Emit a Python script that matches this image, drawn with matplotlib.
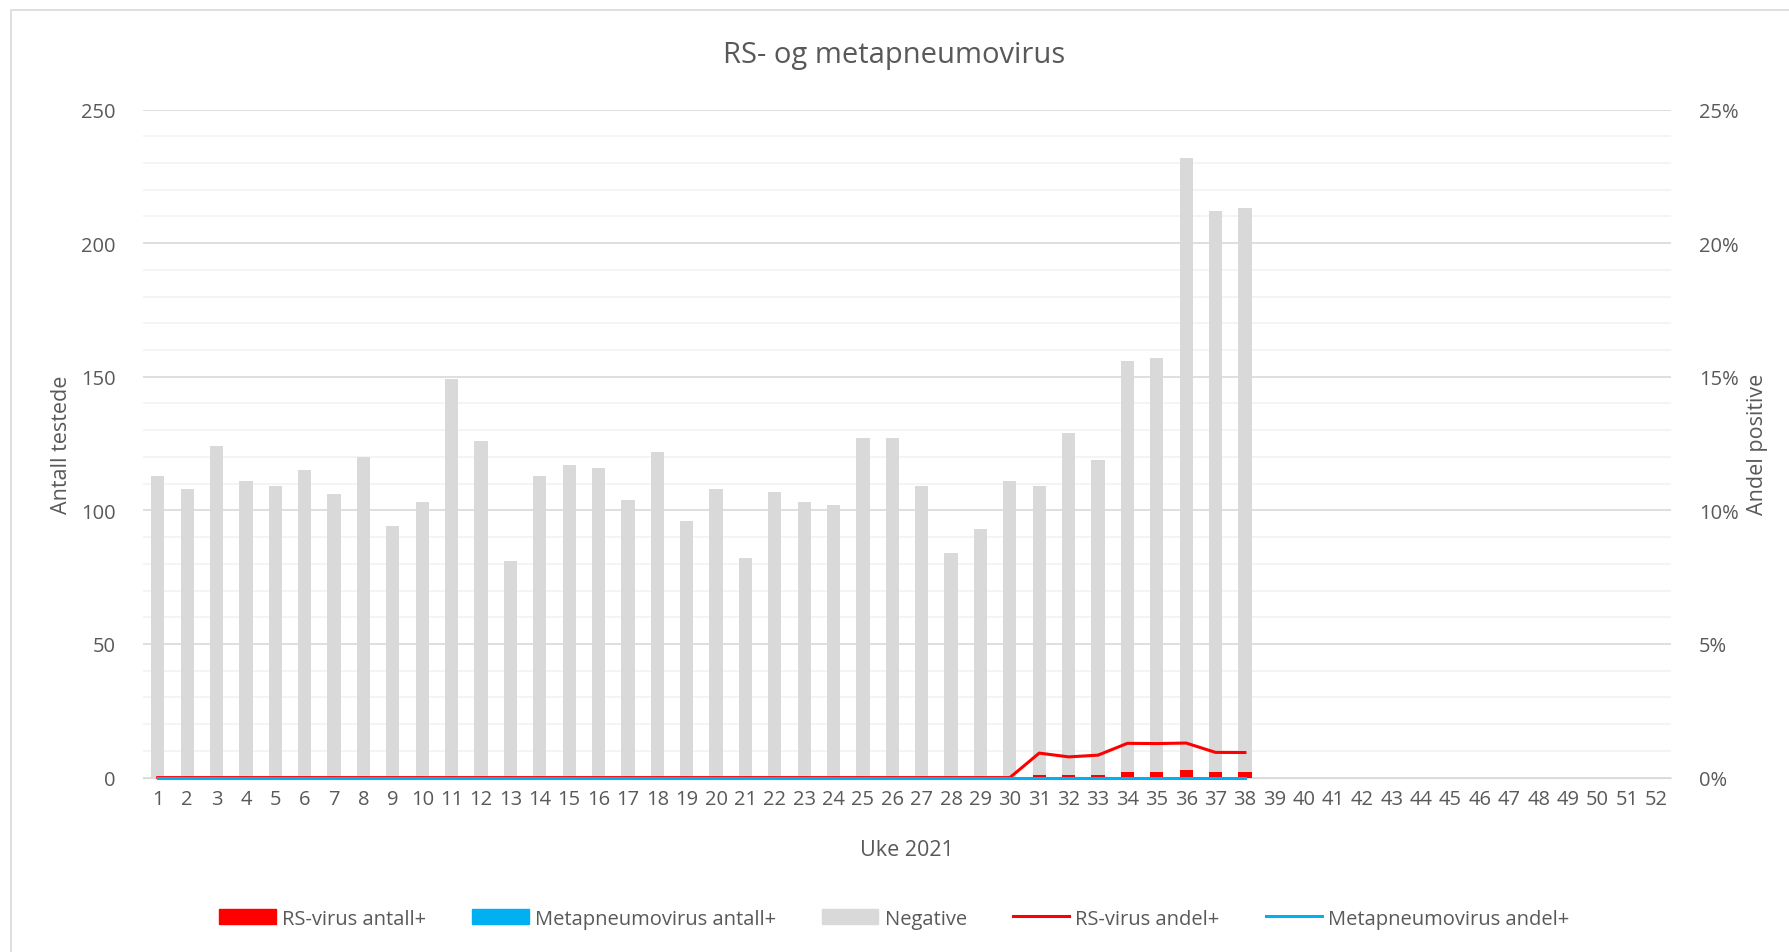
import matplotlib.pyplot as plt
from matplotlib.patches import Rectangle
from matplotlib.lines import Line2D
import numpy as np

plt.rcParams['font.family'] = ['Open Sans', 'DejaVu Sans']

weeks = list(range(1, 53))
total = [113, 108, 124, 111, 109, 115, 106, 120, 94, 103, 149, 126, 81, 113, 117, 116, 104, 122, 96, 108,
         82, 107, 103, 102, 127, 127, 109, 84, 93, 111, 109, 129, 119, 156, 157, 232, 212, 213]
rs_pos = [0] * 30 + [1, 1, 1, 2, 2, 3, 2, 2]
mpv_pos = [0] * 38

n = len(total)
negative = [t - r - m for t, r, m in zip(total, rs_pos, mpv_pos)]
rs_share = [r / t for r, t in zip(rs_pos, total)]
mpv_share = [m / t for m, t in zip(mpv_pos, total)]

grey = '#595959'
fig = plt.figure(figsize=(17.89, 9.53), dpi=100)
ax = fig.add_axes([0.080, 0.183, 0.854, 0.701])
ax2 = ax.twinx()

x = np.arange(1, n + 1)
w = 0.45
ax.bar(x, rs_pos, w, color='#FF0000', zorder=3)
ax.bar(x, mpv_pos, w, bottom=rs_pos, color='#00B0F0', zorder=3)
ax.bar(x, negative, w, bottom=np.array(rs_pos) + np.array(mpv_pos), color='#D9D9D9', zorder=3)

ax2.plot(x, rs_share, color='#FF0000', lw=2.2, zorder=4, clip_on=False)
ax2.plot(x, mpv_share, color='#00B0F0', lw=2.2, zorder=5, clip_on=False)

ax.set_xlim(0.5, 52.5)
ax.set_ylim(0, 250)
ax2.set_ylim(0, 0.25)
ax.set_yticks(range(0, 251, 50))
ax.set_yticks(range(0, 251, 10), minor=True)
ax2.set_yticks(np.arange(0, 0.26, 0.05))
ax2.set_yticklabels([f'{int(round(v * 100))}%' for v in np.arange(0, 0.26, 0.05)])
ax.set_xticks(weeks)
ax.set_xticklabels([str(wk) for wk in weeks])

ax.grid(axis='y', which='major', color='#D9D9D9', lw=1.2, zorder=0)
ax.grid(axis='y', which='minor', color='#F2F2F2', lw=1.2, zorder=0)
ax.set_axisbelow(True)

for a in (ax, ax2):
    for s in a.spines.values():
        s.set_visible(False)
    a.tick_params(which='both', length=0, colors=grey, labelsize=14.5)
ax.spines['bottom'].set_visible(True)
ax.spines['bottom'].set_color('#D9D9D9')
ax.tick_params(axis='y', pad=20)
ax2.tick_params(axis='y', pad=20)
ax.tick_params(axis='x', pad=8)

ax.set_ylabel('Antall testede', color=grey, fontsize=15.5, labelpad=6)
ax2.set_ylabel('Andel positive', color=grey, fontsize=15.5, labelpad=6)
ax.set_xlabel('Uke 2021', color=grey, fontsize=15.5, labelpad=22)
fig.text(0.5, 0.942, 'RS- og metapneumovirus', ha='center', va='center', color=grey, fontsize=21)

handles = [Rectangle((0, 0), 1, 1, color='#FF0000'),
           Rectangle((0, 0), 1, 1, color='#00B0F0'),
           Rectangle((0, 0), 1, 1, color='#D9D9D9'),
           Line2D([0], [0], color='#FF0000', lw=2.2),
           Line2D([0], [0], color='#00B0F0', lw=2.2)]
labels = ['RS-virus antall+', 'Metapneumovirus antall+', 'Negative', 'RS-virus andel+', 'Metapneumovirus andel+']
leg = fig.legend(handles, labels, loc='center', bbox_to_anchor=(0.5, 0.035), ncol=5, frameon=False,
                 fontsize=14.5, handlelength=2.8, handleheight=0.8, columnspacing=2.3, handletextpad=0.3)
for t in leg.get_texts():
    t.set_color(grey)

fig.patches.append(Rectangle((0.006, -0.05), 1.1, 1.038, transform=fig.transFigure,
                             fill=False, edgecolor='#D9D9D9', lw=1.2))

fig.savefig('out.png', dpi=100, facecolor='white')
